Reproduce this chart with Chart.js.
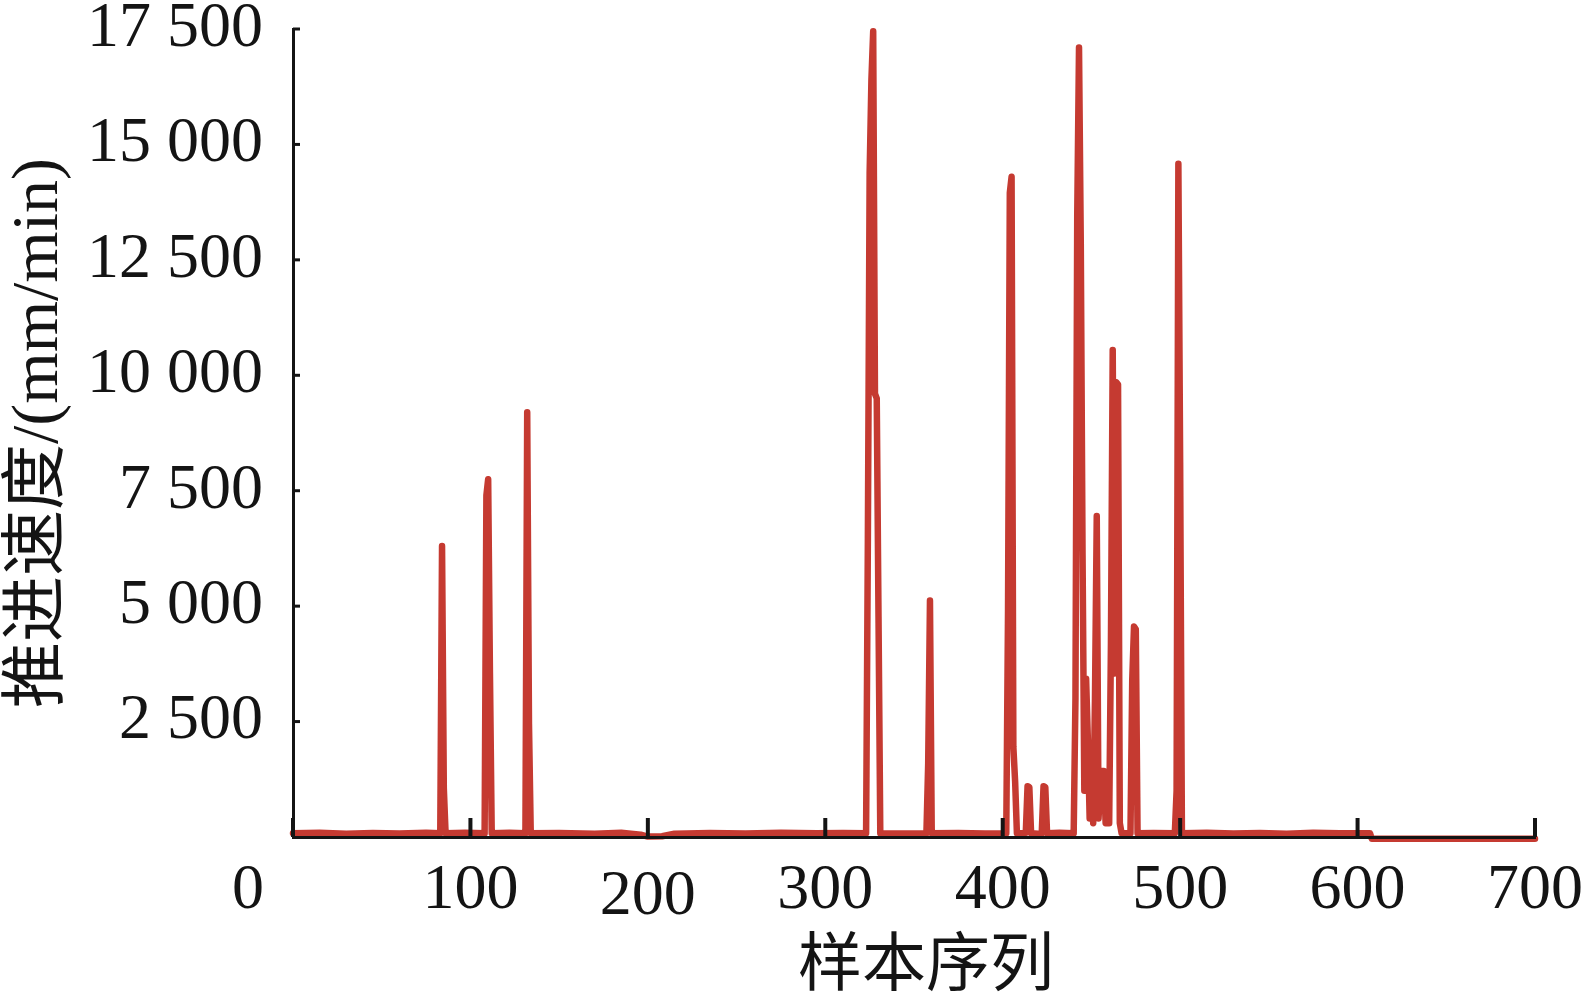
<!DOCTYPE html>
<html lang="zh">
  <head>
    <meta charset="UTF-8" />
    <title>推进速度</title>
    <script src="https://cdn.jsdelivr.net/npm/chart.js"></script>
    <style>
      html, body {
        margin: 0;
        padding: 0;
        background: #ffffff;
      }

      #wrap {
        width: 1590px;
        height: 999px;
      }
    </style>
  </head>

  <body>
    <div id="wrap">
      <canvas id="speedChart" width="1590" height="999"></canvas>
    </div>

    <script>
      // 样本序号 / 推进速度 (mm/min)
      const sampleIndex = [
        0, 15, 30, 45, 60, 75, 83,
        84, 85, 86,
        97, 108,
        109, 110, 111, 112,
        122, 131,
        132, 133, 134,
        150, 170, 185, 196, 200, 208, 215, 235, 255, 275, 295, 310, 323,
        324, 325, 326, 327, 328, 329, 330, 331,
        345, 357,
        358, 359, 360,
        375, 390, 402,
        403, 404, 405, 406, 407, 408,
        411, 413, 414, 415, 416,
        420, 422, 423, 424, 425,
        432, 440,
        441, 442, 443, 444, 445, 446, 447, 448, 449, 450,
        451, 452, 453, 454, 455, 456, 457, 458, 460,
        461, 462, 463, 464, 465, 466, 467,
        472, 473, 474, 475, 476,
        485, 497,
        498, 499, 500, 501,
        515, 530, 545, 560, 575, 590, 607, 608, 700
      ];

      const feedSpeed = [
        80, 90, 70, 85, 75, 90, 80,
        6300, 1060, 80,
        90, 80,
        7400, 7750, 3540, 80,
        90, 80,
        9200, 2450, 80,
        85, 70, 90, 50, 10, 15, 70, 85, 75, 90, 80, 85, 80,
        6460, 14380, 16400, 17450, 9600, 9500, 4770, 80,
        75, 80,
        1600, 5120, 80,
        85, 75, 80,
        4920, 13950, 14300, 1950, 1200, 80,
        80, 90, 1100, 1080, 80,
        70, 80, 1100, 1080, 80,
        90, 80,
        3000, 13450, 17100, 12850, 6100, 1000, 3430, 2100, 400, 1500,
        300, 3000, 6950, 400, 1100, 1430, 1430, 300, 300,
        4200, 10550, 3540, 9850, 9800, 300, 80,
        80, 3400, 4560, 4500, 80,
        85, 80,
        1000, 14580, 8100, 80,
        90, 75, 85, 70, 90, 80, 80, -40, -40
      ];

      const xTicks = [0, 100, 200, 300, 400, 500, 600, 700];
      const yTicks = [2500, 5000, 7500, 10000, 12500, 15000, 17500];

      const xTitle = '样本序列';
      const yTitle = '推进速度/(mm/min)';

      const serif = '"Liberation Serif", "Times New Roman", serif';
      const cjkSerif = '"Liberation Serif", "Noto Sans CJK SC", serif';
      const inkColor = '#141414';
      const lineColor = '#c53a31';

      function spaced(v) {
        return String(v).replace(/\B(?=(\d{3})+(?!\d))/g, ' ');
      }

      // inward tick marks, x labels and the x title
      const axisDecor = {
        id: 'axisDecor',
        afterDatasetsDraw(chart) {
          const { ctx, chartArea, scales } = chart;
          const x = scales.x;
          const y = scales.y;
          ctx.save();
          ctx.strokeStyle = inkColor;
          ctx.lineCap = 'butt';

          ctx.lineWidth = 4;
          xTicks.forEach(v => {
            const px = x.getPixelForValue(v);
            ctx.beginPath();
            ctx.moveTo(px, chartArea.bottom);
            ctx.lineTo(px, chartArea.bottom - 19);
            ctx.stroke();
          });

          ctx.lineWidth = 3;
          yTicks.forEach(v => {
            const py = y.getPixelForValue(v);
            ctx.beginPath();
            ctx.moveTo(chartArea.left, py);
            ctx.lineTo(chartArea.left + 7, py);
            ctx.stroke();
          });

          ctx.fillStyle = inkColor;
          ctx.font = '64px ' + serif;
          ctx.textAlign = 'center';
          ctx.textBaseline = 'middle';
          xTicks.forEach(v => {
            let px = x.getPixelForValue(v);
            let py = chartArea.bottom + 54;
            if (v === 0) px -= 45;
            if (v === 200) py += 6;
            ctx.fillText(String(v), px, py);
          });

          ctx.font = '64px ' + cjkSerif;
          ctx.fillText(xTitle, (chartArea.left + chartArea.right) / 2 + 12, chartArea.bottom + 131);
          ctx.restore();
        }
      };

      const points = sampleIndex.map((s, i) => ({ x: s, y: feedSpeed[i] }));

      new Chart(document.getElementById('speedChart').getContext('2d'), {
        type: 'line',
        data: {
          datasets: [{
            data: points,
            borderColor: lineColor,
            borderWidth: 6.5,
            borderJoinStyle: 'round',
            borderCapStyle: 'round',
            pointRadius: 0,
            tension: 0,
            fill: false,
            clip: 8
          }]
        },
        options: {
          responsive: false,
          animation: false,
          events: [],
          layout: {
            padding: { top: 29, right: 55, left: 0, bottom: 0 }
          },
          plugins: {
            legend: { display: false },
            tooltip: { enabled: false }
          },
          scales: {
            x: {
              type: 'linear',
              min: 0,
              max: 700,
              grid: { display: false, drawTicks: false },
              border: { display: true, color: inkColor, width: 3, z: 1 },
              ticks: { display: false, stepSize: 100 },
              afterFit(scale) {
                scale.height = 162;
                scale.paddingLeft = 0;
                scale.paddingRight = 0;
              }
            },
            y: {
              min: 0,
              max: 17500,
              grid: { display: false, drawTicks: false },
              border: { display: true, color: inkColor, width: 3, z: 1 },
              ticks: {
                stepSize: 2500,
                padding: 30,
                color: inkColor,
                font: { family: serif, size: 64, lineHeight: 1 },
                callback: v => (v === 0 ? '' : spaced(v))
              },
              title: {
                display: true,
                text: yTitle,
                color: inkColor,
                font: { family: cjkSerif, size: 66, lineHeight: 1 },
                padding: { top: 7, bottom: 0 }
              },
              afterFit(scale) {
                scale.width = 293;
                scale.paddingTop = 0;
                scale.paddingBottom = 0;
              }
            }
          }
        },
        plugins: [axisDecor]
      });
    </script>
  </body>
</html>
